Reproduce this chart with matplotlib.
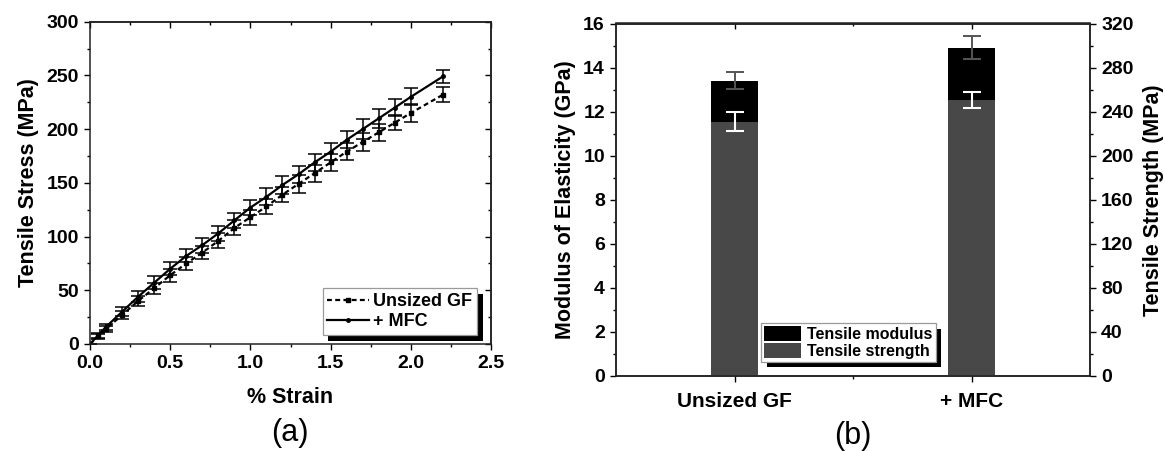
"""Tensile stress-strain curves (a) and modulus / strength bars (b) for unsized GF vs + MFC."""
import numpy as np
import matplotlib

matplotlib.use("Agg")
import matplotlib.pyplot as plt  # noqa: E402
import matplotlib.patheffects as pe  # noqa: E402
from matplotlib.ticker import MultipleLocator, FixedLocator, FormatStrFormatter  # noqa: E402

# ---- panel (a): stress-strain data ----
strain = [0.0, 0.05, 0.1, 0.2, 0.3, 0.4, 0.5, 0.6, 0.7, 0.8, 0.9, 1.0,
          1.1, 1.2, 1.3, 1.4, 1.5, 1.6, 1.7, 1.8, 1.9, 2.0, 2.2]
stress_unsized = [0, 7, 14, 27, 40, 52, 64, 75, 85, 96, 108, 118,
                  128, 139, 149, 159, 169, 179, 188, 197, 206, 215, 232]
err_unsized = [0, 2, 3, 4, 5, 5, 6, 6, 6, 7, 7, 7,
               7, 7, 8, 8, 8, 8, 8, 8, 7, 8, 7]
stress_mfc = [0, 8, 16, 30, 44, 57, 70, 82, 92, 103, 115, 127,
              137, 148, 158, 169, 179, 190, 200, 210, 220, 230, 249]
err_mfc = [0, 2, 3, 4, 5, 6, 6, 6, 7, 7, 7, 7,
           8, 8, 8, 8, 8, 8, 9, 9, 8, 8, 6]

# ---- panel (b): bar data ----
groups = ["Unsized GF", "+ MFC"]
modulus_gpa = [13.4, 14.9]
modulus_err = [0.38, 0.53]
strength_mpa = [231, 250.5]
strength_err = [8.4, 7.0]

plt.rcParams["font.family"] = ["Liberation Sans", "DejaVu Sans"]
plt.rcParams["font.weight"] = "bold"
plt.rcParams["axes.labelweight"] = "bold"
plt.rcParams["axes.linewidth"] = 1.1
plt.rcParams["axes.edgecolor"] = "#222222"

W, H = 1165, 451
fig = plt.figure(figsize=(W / 100, H / 100), dpi=100)

TICK_FS = 14
LABEL_FS = 15.5


def px_axes(left, top, right, bottom):
    return fig.add_axes([left / W, 1 - bottom / H, (right - left) / W, (bottom - top) / H])


def shadow_legend(leg, offset=(4, -4)):
    frame = leg.get_frame()
    frame.set_edgecolor("#9a9a9a")
    frame.set_linewidth(0.9)
    frame.set_path_effects([pe.SimplePatchShadow(offset=offset, shadow_rgbFace="k", alpha=1.0),
                            pe.Normal()])


def style_ticks(a, direction, **kw):
    a.tick_params(which="both", direction=direction, width=1.0, **kw)
    a.tick_params(which="major", length=4.5)
    a.tick_params(which="minor", length=2.5)


# ---------------- (a) ----------------
ax1 = px_axes(90, 21.7, 491, 344)
ax1.plot(strain, stress_unsized, color="k", lw=1.6, dashes=(2.2, 1.5),
         marker="s", ms=3, label="Unsized GF")
ax1.plot(strain, stress_mfc, color="k", lw=1.6, marker="o", ms=2.5, label="+ MFC")
ax1.errorbar(strain, stress_unsized, yerr=err_unsized, fmt="none", ecolor="k",
             elinewidth=1.1, capsize=5, capthick=1.1)
ax1.errorbar(strain, stress_mfc, yerr=err_mfc, fmt="none", ecolor="k",
             elinewidth=1.1, capsize=5, capthick=1.1)
ax1.set_xlim(0, 2.5)
ax1.set_ylim(0, 300)
ax1.xaxis.set_major_locator(MultipleLocator(0.5))
ax1.xaxis.set_minor_locator(MultipleLocator(0.25))
ax1.yaxis.set_major_locator(MultipleLocator(50))
ax1.yaxis.set_minor_locator(MultipleLocator(25))
ax1.xaxis.set_major_formatter(FormatStrFormatter("%.1f"))
style_ticks(ax1, "out", labelsize=TICK_FS)
ax1.set_xlabel("% Strain", fontsize=LABEL_FS, labelpad=11)
ax1.set_ylabel("Tensile Stress (MPa)", fontsize=LABEL_FS, labelpad=5)

top1 = ax1.secondary_xaxis("top")
top1.xaxis.set_major_locator(MultipleLocator(0.5))
top1.xaxis.set_minor_locator(MultipleLocator(0.25))
style_ticks(top1, "in", labeltop=False)
right1 = ax1.secondary_yaxis("right")
right1.yaxis.set_major_locator(MultipleLocator(50))
right1.yaxis.set_minor_locator(MultipleLocator(25))
style_ticks(right1, "in", labelright=False)

leg1 = ax1.legend(loc="lower right", bbox_to_anchor=(0.965, 0.028), borderaxespad=0,
                  fontsize=13, fancybox=False, framealpha=1, handlelength=2.3,
                  handletextpad=0.25, labelspacing=0.2, borderpad=0.25)
shadow_legend(leg1)

fig.text(290 / W, 1 - 433 / H, "(a)", ha="center", va="center", fontsize=22, fontweight="normal")

# ---------------- (b) ----------------
ax2 = px_axes(616, 23.5, 1090, 376)
ax3 = ax2.twinx()
xpos = np.arange(1, len(groups) + 1)
ax2.bar(xpos, modulus_gpa, width=0.2, color="k", label="Tensile modulus")
ax2.errorbar(xpos, modulus_gpa, yerr=modulus_err, fmt="none", ecolor="#555555",
             elinewidth=1.4, capsize=6.5, capthick=1.4)
ax3.bar(xpos, strength_mpa, width=0.2, color="#484848", label="Tensile strength")
ax3.errorbar(xpos, strength_mpa, yerr=strength_err, fmt="none", ecolor="white",
             elinewidth=1.5, capsize=6.5, capthick=1.5)

ax2.set_xlim(0.5, 2.5)
ax2.set_ylim(0, 16)
ax3.set_ylim(0, 320)
ax2.set_xticks(xpos)
ax2.set_xticklabels(groups)
ax2.xaxis.set_minor_locator(FixedLocator([1.5]))
ax2.yaxis.set_major_locator(MultipleLocator(2))
ax2.yaxis.set_minor_locator(MultipleLocator(1))
ax3.yaxis.set_major_locator(MultipleLocator(40))
ax3.yaxis.set_minor_locator(MultipleLocator(20))
style_ticks(ax2, "out", labelsize=TICK_FS)
style_ticks(ax3, "out", labelsize=TICK_FS)
ax2.tick_params(axis="x", labelsize=15, pad=7)
ax2.set_ylabel("Modulus of Elasticity (GPa)", fontsize=LABEL_FS, labelpad=5)
ax3.set_ylabel("Tensile Strength (MPa)", fontsize=LABEL_FS, labelpad=7)

top2 = ax2.secondary_xaxis("top")
top2.set_xticks(xpos)
top2.xaxis.set_minor_locator(FixedLocator([1.5]))
style_ticks(top2, "in", labeltop=False)

h2, l2 = ax2.get_legend_handles_labels()
h3, l3 = ax3.get_legend_handles_labels()
leg2 = ax3.legend(h2 + h3, l2 + l3, loc="lower left", bbox_to_anchor=(0.306, 0.040),
                  borderaxespad=0, fontsize=11.5, fancybox=False, framealpha=1,
                  handlelength=2.3, handleheight=1.05, handletextpad=0.4,
                  labelspacing=0.05, borderpad=0.2)
shadow_legend(leg2)

fig.text(853 / W, 1 - 436 / H, "(b)", ha="center", va="center", fontsize=22, fontweight="normal")

fig.savefig("out.png", dpi=100)
